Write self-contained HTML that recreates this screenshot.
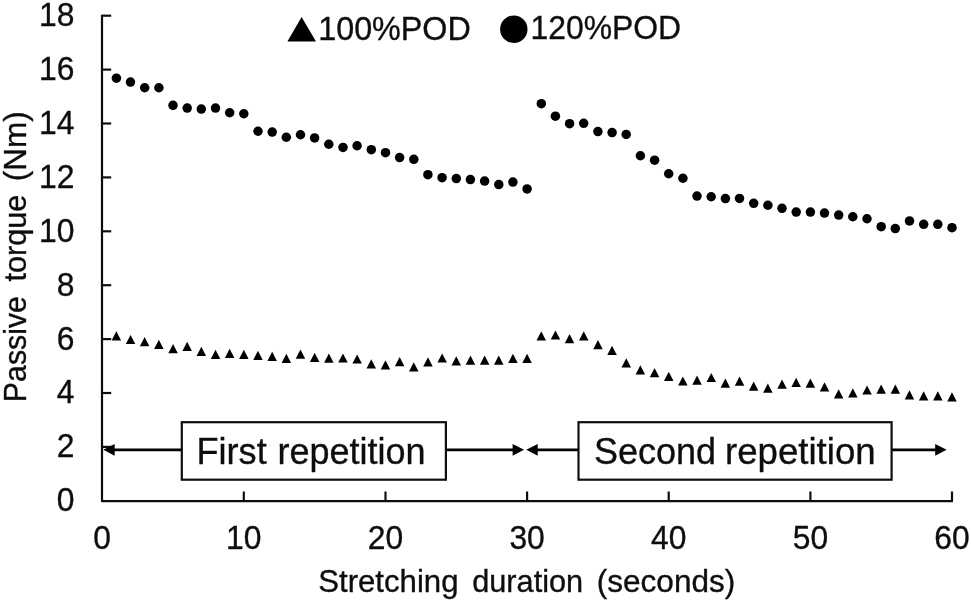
<!DOCTYPE html>
<html lang="en"><head><meta charset="utf-8"><title>Passive torque vs stretching duration</title>
<style>html,body{margin:0;padding:0;background:#fff}body{width:971px;height:602px;overflow:hidden}svg{display:block}text{font-family:"Liberation Sans",Arial,sans-serif;fill:#111;stroke:#111;stroke-width:0.35px}</style></head><body>
<svg width="971" height="602" viewBox="0 0 971 602" role="img" aria-label="Passive torque versus stretching duration">
<defs><filter id="soft" x="0" y="0" width="971" height="602" filterUnits="userSpaceOnUse"><feGaussianBlur stdDeviation="0.55"/></filter></defs>
<rect width="971" height="602" fill="#fff"/>
<g filter="url(#soft)">
<rect x="-5" y="-5" width="981" height="612" fill="#fff"/>
<g stroke="#111" stroke-width="2.2" fill="none" stroke-linejoin="round">
<path d="M102.0 14.7 V501.2 H953.0"/>
<path d="M102.2 446.9 h9"/>
<path d="M102.2 393.0 h9"/>
<path d="M102.2 339.1 h9"/>
<path d="M102.2 285.2 h9"/>
<path d="M102.2 231.3 h9"/>
<path d="M102.2 177.4 h9"/>
<path d="M102.2 123.5 h9"/>
<path d="M102.2 69.6 h9"/>
<path d="M102.2 15.7 h9"/>
<path d="M243.8 501.2 v-9.7"/>
<path d="M385.5 501.2 v-9.7"/>
<path d="M527.1 501.2 v-9.7"/>
<path d="M668.7 501.2 v-9.7"/>
<path d="M810.4 501.2 v-9.7"/>
<path d="M952.0 501.2 v-9.7"/>
</g>
<g font-size="33" text-anchor="end">
<text transform="translate(74.5 511.2) scale(0.965 1)">0</text>
<text transform="translate(74.5 457.3) scale(0.965 1)">2</text>
<text transform="translate(74.5 403.4) scale(0.965 1)">4</text>
<text transform="translate(74.5 349.5) scale(0.965 1)">6</text>
<text transform="translate(74.5 295.6) scale(0.965 1)">8</text>
<text transform="translate(74.5 241.7) scale(0.965 1)">10</text>
<text transform="translate(74.5 187.8) scale(0.965 1)">12</text>
<text transform="translate(74.5 133.9) scale(0.965 1)">14</text>
<text transform="translate(74.5 80.0) scale(0.965 1)">16</text>
<text transform="translate(74.5 26.1) scale(0.965 1)">18</text>
</g>
<g font-size="33" text-anchor="middle">
<text transform="translate(102.2 549.4) scale(0.965 1)">0</text>
<text transform="translate(243.8 549.4) scale(0.965 1)">10</text>
<text transform="translate(385.5 549.4) scale(0.965 1)">20</text>
<text transform="translate(527.1 549.4) scale(0.965 1)">30</text>
<text transform="translate(668.7 549.4) scale(0.965 1)">40</text>
<text transform="translate(810.4 549.4) scale(0.965 1)">50</text>
<text transform="translate(952.0 549.4) scale(0.965 1)">60</text>
</g>
<text font-size="31" transform="translate(318.19 592.2) scale(1.0059 1.02)">Stretching</text>
<text font-size="31" transform="translate(472.21 592.2) scale(0.9909 1.02)">duration</text>
<text font-size="31" transform="translate(596.77 592.2) scale(1.0181 1.02)">(seconds)</text>
<text font-size="33" transform="translate(318.25 39.6) scale(0.9785 1.0)">100%POD</text>
<text font-size="33" transform="translate(530.46 39.0) scale(0.9661 1.0)">120%POD</text>
<text font-size="36" transform="translate(196.58 464.2) scale(1.0020 1.02)">First</text>
<text font-size="36" transform="translate(277.40 464.2) scale(1.0007 1.02)">repetition</text>
<text font-size="36" transform="translate(594.00 464.2) scale(1.0000 1.02)">Second</text>
<text font-size="36" transform="translate(724.96 464.2) scale(1.0179 1.02)">repetition</text>
<text font-size="31" transform="translate(26.2 402.15) rotate(-90) scale(0.9772 1.025)">Passive</text>
<text font-size="31" transform="translate(26.2 281.60) rotate(-90) scale(0.9896 1.025)">torque</text>
<text font-size="31" transform="translate(26.2 181.23) rotate(-90) scale(1.0154 1.025)">(Nm)</text>
<path d="M287.4 41.4 L316.0 41.4 L301.6 17.0 Z" fill="#000"/>
<circle cx="513.8" cy="29.2" r="13.7" fill="#000"/>
<g fill="#000">
<circle cx="116.4" cy="78.15" r="4.75"/>
<circle cx="130.5" cy="82.05" r="4.75"/>
<circle cx="144.7" cy="87.75" r="4.75"/>
<circle cx="158.9" cy="87.75" r="4.75"/>
<circle cx="173.0" cy="105.35" r="4.75"/>
<circle cx="187.2" cy="108.05" r="4.75"/>
<circle cx="201.3" cy="109.05" r="4.75"/>
<circle cx="215.5" cy="108.05" r="4.75"/>
<circle cx="229.7" cy="112.75" r="4.75"/>
<circle cx="243.8" cy="113.75" r="4.75"/>
<circle cx="258.0" cy="131.25" r="4.75"/>
<circle cx="272.2" cy="132.05" r="4.75"/>
<circle cx="286.3" cy="137.25" r="4.75"/>
<circle cx="300.5" cy="134.75" r="4.75"/>
<circle cx="314.6" cy="137.95" r="4.75"/>
<circle cx="328.8" cy="144.25" r="4.75"/>
<circle cx="343.0" cy="147.45" r="4.75"/>
<circle cx="357.1" cy="145.75" r="4.75"/>
<circle cx="371.3" cy="149.65" r="4.75"/>
<circle cx="385.5" cy="152.65" r="4.75"/>
<circle cx="399.6" cy="157.55" r="4.75"/>
<circle cx="413.8" cy="159.35" r="4.75"/>
<circle cx="427.9" cy="174.65" r="4.75"/>
<circle cx="442.1" cy="177.65" r="4.75"/>
<circle cx="456.3" cy="178.55" r="4.75"/>
<circle cx="470.4" cy="179.55" r="4.75"/>
<circle cx="484.6" cy="181.05" r="4.75"/>
<circle cx="498.8" cy="184.55" r="4.75"/>
<circle cx="512.9" cy="182.05" r="4.75"/>
<circle cx="527.1" cy="188.95" r="4.75"/>
<circle cx="541.3" cy="103.65" r="4.75"/>
<circle cx="555.4" cy="116.15" r="4.75"/>
<circle cx="569.6" cy="123.65" r="4.75"/>
<circle cx="583.7" cy="123.35" r="4.75"/>
<circle cx="597.9" cy="131.55" r="4.75"/>
<circle cx="612.1" cy="132.55" r="4.75"/>
<circle cx="626.2" cy="134.45" r="4.75"/>
<circle cx="640.4" cy="155.75" r="4.75"/>
<circle cx="654.6" cy="160.15" r="4.75"/>
<circle cx="668.7" cy="173.75" r="4.75"/>
<circle cx="682.9" cy="178.25" r="4.75"/>
<circle cx="697.0" cy="196.05" r="4.75"/>
<circle cx="711.2" cy="196.75" r="4.75"/>
<circle cx="725.4" cy="198.55" r="4.75"/>
<circle cx="739.5" cy="198.45" r="4.75"/>
<circle cx="753.7" cy="203.35" r="4.75"/>
<circle cx="767.9" cy="205.25" r="4.75"/>
<circle cx="782.0" cy="208.35" r="4.75"/>
<circle cx="796.2" cy="212.05" r="4.75"/>
<circle cx="810.4" cy="212.05" r="4.75"/>
<circle cx="824.5" cy="213.05" r="4.75"/>
<circle cx="838.7" cy="215.05" r="4.75"/>
<circle cx="852.8" cy="216.75" r="4.75"/>
<circle cx="867.0" cy="218.75" r="4.75"/>
<circle cx="881.2" cy="226.65" r="4.75"/>
<circle cx="895.3" cy="228.55" r="4.75"/>
<circle cx="909.5" cy="220.95" r="4.75"/>
<circle cx="923.7" cy="224.35" r="4.75"/>
<circle cx="937.8" cy="224.35" r="4.75"/>
<circle cx="952.0" cy="227.65" r="4.75"/>
<path d="M111.6 340.4h9.5l-4.75 -9.2z"/>
<path d="M125.8 344.1h9.5l-4.75 -9.2z"/>
<path d="M139.9 346.3h9.5l-4.75 -9.2z"/>
<path d="M154.1 349.0h9.5l-4.75 -9.2z"/>
<path d="M168.3 353.2h9.5l-4.75 -9.2z"/>
<path d="M182.4 350.9h9.5l-4.75 -9.2z"/>
<path d="M196.6 355.9h9.5l-4.75 -9.2z"/>
<path d="M210.8 358.9h9.5l-4.75 -9.2z"/>
<path d="M224.9 357.9h9.5l-4.75 -9.2z"/>
<path d="M239.1 358.9h9.5l-4.75 -9.2z"/>
<path d="M253.2 360.0h9.5l-4.75 -9.2z"/>
<path d="M267.4 360.9h9.5l-4.75 -9.2z"/>
<path d="M281.6 362.9h9.5l-4.75 -9.2z"/>
<path d="M295.7 358.8h9.5l-4.75 -9.2z"/>
<path d="M309.9 361.9h9.5l-4.75 -9.2z"/>
<path d="M324.1 362.8h9.5l-4.75 -9.2z"/>
<path d="M338.2 362.6h9.5l-4.75 -9.2z"/>
<path d="M352.4 363.6h9.5l-4.75 -9.2z"/>
<path d="M366.5 368.5h9.5l-4.75 -9.2z"/>
<path d="M380.7 369.5h9.5l-4.75 -9.2z"/>
<path d="M394.9 366.2h9.5l-4.75 -9.2z"/>
<path d="M409.0 371.4h9.5l-4.75 -9.2z"/>
<path d="M423.2 366.4h9.5l-4.75 -9.2z"/>
<path d="M437.4 362.6h9.5l-4.75 -9.2z"/>
<path d="M451.5 365.4h9.5l-4.75 -9.2z"/>
<path d="M465.7 364.7h9.5l-4.75 -9.2z"/>
<path d="M479.9 364.7h9.5l-4.75 -9.2z"/>
<path d="M494.0 364.7h9.5l-4.75 -9.2z"/>
<path d="M508.2 362.9h9.5l-4.75 -9.2z"/>
<path d="M522.3 362.9h9.5l-4.75 -9.2z"/>
<path d="M536.5 340.4h9.5l-4.75 -9.2z"/>
<path d="M550.7 339.6h9.5l-4.75 -9.2z"/>
<path d="M564.8 343.3h9.5l-4.75 -9.2z"/>
<path d="M579.0 340.4h9.5l-4.75 -9.2z"/>
<path d="M593.2 349.3h9.5l-4.75 -9.2z"/>
<path d="M607.3 354.9h9.5l-4.75 -9.2z"/>
<path d="M621.5 367.5h9.5l-4.75 -9.2z"/>
<path d="M635.6 374.5h9.5l-4.75 -9.2z"/>
<path d="M649.8 377.2h9.5l-4.75 -9.2z"/>
<path d="M664.0 380.9h9.5l-4.75 -9.2z"/>
<path d="M678.1 385.6h9.5l-4.75 -9.2z"/>
<path d="M692.3 384.8h9.5l-4.75 -9.2z"/>
<path d="M706.5 382.1h9.5l-4.75 -9.2z"/>
<path d="M720.6 387.8h9.5l-4.75 -9.2z"/>
<path d="M734.8 385.8h9.5l-4.75 -9.2z"/>
<path d="M748.9 390.7h9.5l-4.75 -9.2z"/>
<path d="M763.1 392.7h9.5l-4.75 -9.2z"/>
<path d="M777.3 388.7h9.5l-4.75 -9.2z"/>
<path d="M791.4 386.9h9.5l-4.75 -9.2z"/>
<path d="M805.6 387.7h9.5l-4.75 -9.2z"/>
<path d="M819.8 391.5h9.5l-4.75 -9.2z"/>
<path d="M833.9 398.4h9.5l-4.75 -9.2z"/>
<path d="M848.1 397.5h9.5l-4.75 -9.2z"/>
<path d="M862.3 394.6h9.5l-4.75 -9.2z"/>
<path d="M876.4 393.7h9.5l-4.75 -9.2z"/>
<path d="M890.6 393.7h9.5l-4.75 -9.2z"/>
<path d="M904.7 399.5h9.5l-4.75 -9.2z"/>
<path d="M918.9 400.4h9.5l-4.75 -9.2z"/>
<path d="M933.1 400.4h9.5l-4.75 -9.2z"/>
<path d="M947.2 401.4h9.5l-4.75 -9.2z"/>
</g>
<g stroke="#000" stroke-width="2.7" fill="none">
<path d="M112 449.8 H182"/><path d="M446 449.8 H514"/><path d="M536 449.8 H578"/><path d="M892 449.8 H937"/>
</g>
<g fill="#000">
<path d="M103.3 449.8 l11.4 -5.9 v11.8 z"/>
<path d="M524.0 449.8 l-11.4 -5.9 v11.8 z"/>
<path d="M526.3 449.8 l11.4 -5.9 v11.8 z"/>
<path d="M946.6 449.8 l-11.4 -5.9 v11.8 z"/>
</g>
<g stroke="#111" stroke-width="2.2" fill="none">
<rect x="181.8" y="422.2" width="264.1" height="57.5"/>
<rect x="578.5" y="422.2" width="313.1" height="57.5"/>
</g>
</g>
</svg></body></html>
